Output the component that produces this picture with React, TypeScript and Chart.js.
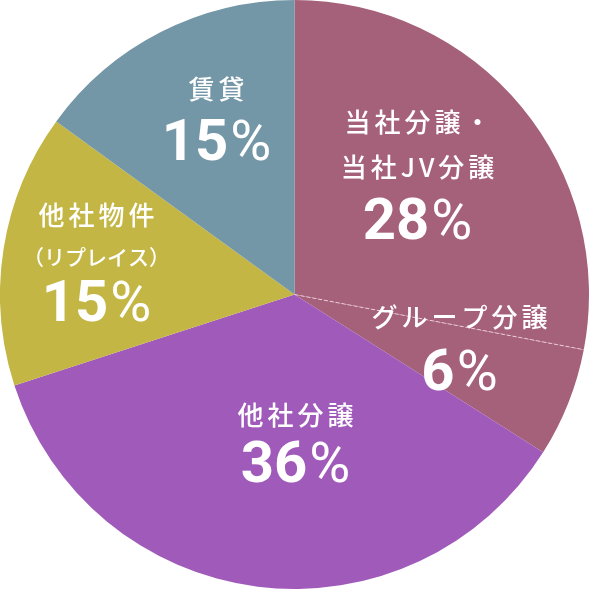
import React, { useEffect, useRef } from 'react';
import { Chart, registerables } from 'chart.js';

Chart.register(...registerables);

// slices clockwise from 12 o'clock
const categories = ['当社分譲・当社JV分譲', 'グループ分譲', '他社分譲', '他社物件（リプレイス）', '賃貸'];
const shares = [28, 6, 36, 15, 15];
const colors = ['#a5607a', '#a5607a', '#a05bba', '#c3b644', '#7497a8'];

// label lines for each slice
const nameLines = [['当社分譲・', '当社JV分譲'], ['グループ分譲'], ['他社分譲'], ['他社物件', '（リプレイス）'], ['賃貸']];

// label placement, pixels from the pie centre: x, name line ys, share y
const labelPos: { x: number; lines: number[]; share: number }[] = [
  { x: 123, lines: [-172, -127], share: -70 },
  { x: 165, lines: [23], share: 81 },
  { x: 1, lines: [121], share: 173 },
  { x: -198, lines: [-79, -37], share: 12 },
  { x: -78, lines: [-205], share: -149 },
];

const labelPlugin = {
  id: 'sliceLabels',
  afterDatasetsDraw(chart: any) {
    const ctx = chart.ctx as CanvasRenderingContext2D;
    const meta = chart.getDatasetMeta(0);
    const first = meta.data[0];
    const { x: cx, y: cy } = first;
    const r = first.outerRadius;

    // dashed separator between the first two slices
    ctx.save();
    const a = first.endAngle;
    ctx.strokeStyle = 'rgba(255,230,240,0.75)';
    ctx.lineWidth = 1;
    ctx.setLineDash([4, 2]);
    ctx.beginPath();
    ctx.moveTo(cx, cy);
    ctx.lineTo(cx + Math.cos(a) * r, cy + Math.sin(a) * r);
    ctx.stroke();
    ctx.restore();

    ctx.save();
    ctx.fillStyle = '#ffffff';
    ctx.textBaseline = 'middle';
    nameLines.forEach((lines, i) => {
      const p = labelPos[i];
      const ax = cx + p.x;
      lines.forEach((line, j) => {
        const small = line.startsWith('（');
        ctx.font = `500 ${small ? 21 : 26}px "Noto Sans CJK JP"`;
        const sp = small ? 0 : 4;
        (ctx as any).letterSpacing = `${sp}px`;
        ctx.textAlign = 'center';
        ctx.fillText(line, ax + sp / 2, cy + p.lines[j]);
      });
      // share text: digits bold, % lighter
      const num = String(shares[i]);
      const numY = cy + p.share;
      (ctx as any).letterSpacing = '0px';
      ctx.font = 'bold 58px Roboto';
      const wNum = ctx.measureText(num).width;
      ctx.font = '400 56px Roboto';
      const wPct = ctx.measureText('%').width;
      const left = ax - (wNum + wPct + 2) / 2;
      ctx.textAlign = 'left';
      ctx.font = 'bold 58px Roboto';
      ctx.fillText(num, left, numY);
      ctx.font = '400 56px Roboto';
      ctx.fillText('%', left + wNum + 2, numY);
    });
    ctx.restore();
  },
};

const App: React.FC = () => {
  const canvasRef = useRef<HTMLCanvasElement>(null);

  useEffect(() => {
    if (!canvasRef.current) return;
    const chart = new Chart(canvasRef.current, {
      type: 'pie',
      data: {
        labels: categories,
        datasets: [{
          data: shares,
          backgroundColor: colors,
          borderWidth: 0,
        }],
      },
      options: {
        responsive: false,
        animation: false,
        layout: { padding: 0 },
        plugins: { legend: { display: false }, tooltip: { enabled: false } },
      },
      plugins: [labelPlugin],
    });
    return () => chart.destroy();
  }, []);

  return (
    <div style={{ position: 'absolute', left: 0, top: 0, width: 589, height: 589, background: '#fff' }}>
      <canvas ref={canvasRef} width={589} height={589} style={{ width: 589, height: 589 }} />
    </div>
  );
};

export default App;
